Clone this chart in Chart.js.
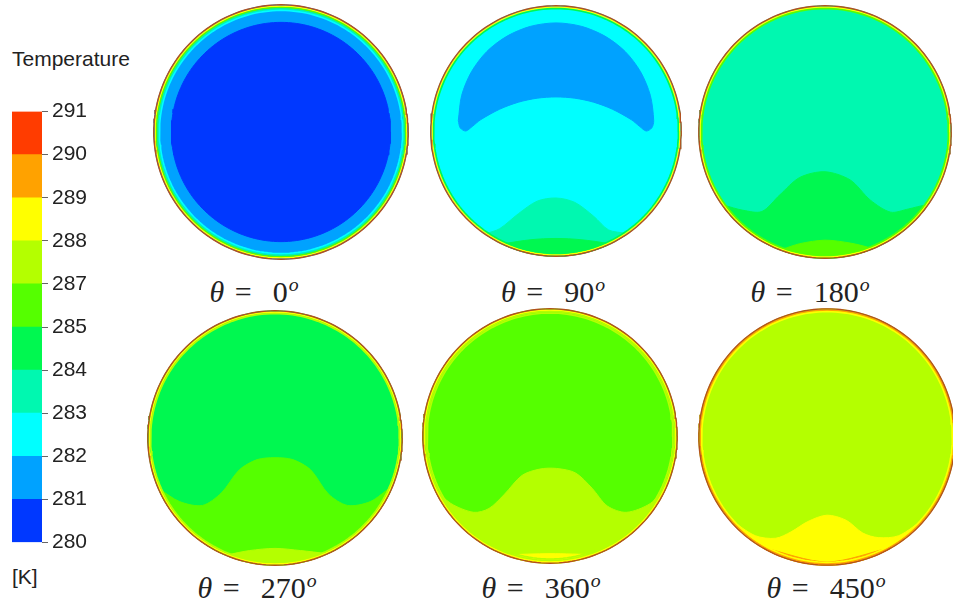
<!DOCTYPE html>
<html>
<head>
<meta charset="utf-8">
<script src="https://cdn.jsdelivr.net/npm/chart.js@4.4.1/dist/chart.umd.min.js"></script>
<style>
    body {
        margin: 0;
        width: 953px;
        height: 605px;
        overflow: hidden;
        background: #fff;
        position: relative;
        font-family: "Liberation Sans", Arial, sans-serif;
        color: #222;
    }
    canvas { position: absolute; }
    .txt { position: absolute; white-space: nowrap; line-height: 1; }
    .ang {
        position: absolute;
        white-space: pre;
        transform: translate(-50%, -50%);
        font-family: "Liberation Serif", serif;
        font-size: 30px;
        word-spacing: 3px;
        line-height: 1;
        color: #222;
    }
    .ang sup { font-size: 0.66em; font-style: italic; vertical-align: 0.55em; line-height: 0; margin-left: 1px; }
</style>
</head>
<body>
<div class="txt" style="left:12px; top:48px; font-size:21px;">Temperature</div>
<canvas id="legendBar" width="80" height="464" style="left:12px; top:95px;"></canvas>
<div class="txt" style="left:12px; top:566px; font-size:21px;">[K]</div>

<script>
document.addEventListener('DOMContentLoaded', function () {
    // Colour bar levels [K] (the legend skips 286)
    var levels = [280, 281, 282, 283, 284, 285, 287, 288, 289, 290, 291];
    var bandColors = ['#0038ff', '#00a2ff', '#00ffff', '#00f8b0', '#00f850',
                      '#55ff00', '#b4ff00', '#ffff00', '#ffa200', '#ff3c00'];

    // Crank angle of each section
    var angles = [0, 90, 180, 270, 360, 450];
    // Band filling the bulk of each section
    var coreBand = [0, 2, 3, 4, 5, 6];

    // theta = 0: cold core inside a warmer annulus
    var coreRadius0 = 0.862;

    // theta = 90: cool crescent in the upper half (x, y in units of the pipe radius)
    var crescentX = [-0.78, -0.753, -0.675, -0.552, -0.39, -0.202, 0, 0.202, 0.39, 0.552, 0.675, 0.753, 0.78,
                     0.765, 0.72, 0.67, 0.6, 0.45, 0.3, 0.15, 0, -0.15, -0.3, -0.45, -0.6, -0.67, -0.72, -0.765];
    var crescentY = [0.083, 0.285, 0.473, 0.635, 0.758, 0.836, 0.863, 0.836, 0.758, 0.635, 0.473, 0.285, 0.083,
                     0.025, 0.0, 0.035, 0.091, 0.174, 0.23, 0.262, 0.272, 0.262, 0.23, 0.174, 0.091, 0.035, 0.0, 0.025];

    // Warm plume rising from the bottom wall (upper boundary, left to right)
    var plumeX = [
        [],
        [-0.56, -0.45, -0.30, -0.15, 0, 0.15, 0.30, 0.42, 0.56],
        [-0.80, -0.65, -0.50, -0.36, -0.2, 0, 0.2, 0.36, 0.52, 0.66, 0.80],
        [-0.91, -0.75, -0.57, -0.42, -0.28, -0.14, 0, 0.14, 0.28, 0.42, 0.57, 0.75, 0.91],
        [-0.91, -0.78, -0.60, -0.48, -0.36, -0.22, -0.08, 0.05, 0.2, 0.33, 0.45, 0.6, 0.79, 0.91],
        [-0.76, -0.56, -0.40, -0.28, -0.15, 0, 0.15, 0.28, 0.40, 0.56, 0.76]
    ];
    var plumeY = [
        [],
        [-0.82, -0.78, -0.66, -0.56, -0.535, -0.57, -0.68, -0.79, -0.82],
        [-0.58, -0.62, -0.63, -0.50, -0.36, -0.315, -0.38, -0.54, -0.635, -0.61, -0.58],
        [-0.40, -0.50, -0.53, -0.43, -0.25, -0.17, -0.155, -0.17, -0.25, -0.44, -0.53, -0.50, -0.39],
        [-0.41, -0.53, -0.60, -0.57, -0.46, -0.31, -0.26, -0.255, -0.29, -0.41, -0.55, -0.60, -0.53, -0.40],
        [-0.64, -0.77, -0.79, -0.74, -0.66, -0.61, -0.65, -0.75, -0.785, -0.77, -0.64]
    ];

    // Thin hot layer on the bottom wall
    var layerX = [
        [],
        [-0.42, -0.2, 0, 0.2, 0.42],
        [-0.34, -0.2, 0, 0.2, 0.36],
        [-0.38, -0.2, 0, 0.2, 0.40],
        [-0.35, 0, 0.35],
        [-0.5, 0, 0.5]
    ];
    var layerY = [
        [],
        [-0.9, -0.868, -0.858, -0.868, -0.9],
        [-0.93, -0.885, -0.857, -0.88, -0.92],
        [-0.92, -0.885, -0.868, -0.885, -0.91],
        [-0.935, -0.925, -0.935],
        [-0.862, -0.975, -0.862]
    ];

    // Wall boundary layer, outer to inner band
    var wallBands = [
        [7, 5, 3, 2],
        [7, 4],
        [7, 5],
        [7, 6],
        [7, 6, 6],
        [8, 7]
    ];

    // Section centres and radii on the page
    var panels = [
        {cx: 280.5, cy: 131.5, r: 127, lx: 254, ly: 292},
        {cx: 556, cy: 131, r: 125, lx: 553, ly: 292},
        {cx: 825, cy: 132, r: 126, lx: 810, ly: 292},
        {cx: 275, cy: 438, r: 127, lx: 257, ly: 588},
        {cx: 549.5, cy: 436, r: 127, lx: 541, ly: 588},
        {cx: 827, cy: 437, r: 128, lx: 826, ly: 588}
    ];
    var span = 1.03;

    function circlePoints(radius, n) {
        var pts = [];
        for (var i = 0; i <= n; i++) {
            var a = 2 * Math.PI * i / n;
            pts.push({x: radius * Math.cos(a), y: radius * Math.sin(a)});
        }
        return pts;
    }

    // region under a boundary curve, closed along the wall
    function underCurve(xs, ys) {
        var pts = [];
        for (var i = 0; i < xs.length; i++) pts.push({x: xs[i], y: ys[i]});
        var aR = Math.atan2(ys[ys.length - 1], xs[xs.length - 1]);
        var aL = Math.atan2(ys[0], xs[0]);
        var n = 60;
        for (var k = 1; k < n; k++) {
            var a = aR + (aL - aR) * k / n;
            pts.push({x: Math.cos(a), y: Math.sin(a)});
        }
        pts.push({x: xs[0], y: ys[0]});
        return pts;
    }

    function areaSet(points, color, tension) {
        return {
            data: points,
            showLine: true,
            fill: 'shape',
            backgroundColor: color,
            borderColor: color,
            borderWidth: 1,
            pointRadius: 0,
            tension: tension
        };
    }

    function wallSet(radius, color, width) {
        return {
            data: circlePoints(radius, 180),
            showLine: true,
            fill: false,
            borderColor: color,
            borderWidth: width,
            pointRadius: 0,
            tension: 0
        };
    }

    panels.forEach(function (p, idx) {
        var size = Math.round(2 * p.r * span);
        var canvas = document.createElement('canvas');
        canvas.width = size;
        canvas.height = size;
        canvas.style.left = (p.cx - size / 2) + 'px';
        canvas.style.top = (p.cy - size / 2) + 'px';
        document.body.appendChild(canvas);

        // bottom layer first
        var sets = [];
        sets.push(areaSet(circlePoints(1, 180), bandColors[coreBand[idx]], 0));
        if (idx === 0) {
            sets[0].backgroundColor = bandColors[1];
            sets[0].borderColor = bandColors[1];
            sets.push(areaSet(circlePoints(coreRadius0, 180), bandColors[0], 0));
        }
        if (idx === 1) {
            var cres = crescentX.map(function (x, i) { return {x: x, y: crescentY[i]}; });
            cres.push(cres[0]);
            sets.push(areaSet(cres, bandColors[1], 0.3));
        }
        if (plumeX[idx].length) {
            sets.push(areaSet(underCurve(plumeX[idx], plumeY[idx]), bandColors[coreBand[idx] + 1], 0.3));
        }
        if (layerX[idx].length) {
            sets.push(areaSet(underCurve(layerX[idx], layerY[idx]), bandColors[coreBand[idx] + 2], 0.3));
        }
        var step = 1.4 / p.r;
        wallBands[idx].forEach(function (b, k) {
            sets.push(wallSet(1 - step * (k + 1), bandColors[b], 1.6));
        });
        sets.push(wallSet(1, '#b4501e', 1.4));

        sets.forEach(function (s, i) { s.order = -i; });

        new Chart(canvas, {
            type: 'scatter',
            data: {datasets: sets},
            options: {
                responsive: false,
                animation: false,
                devicePixelRatio: 1,
                events: [],
                layout: {padding: 0},
                plugins: {legend: {display: false}, tooltip: {enabled: false}},
                scales: {
                    x: {type: 'linear', min: -span, max: span, display: false},
                    y: {type: 'linear', min: -span, max: span, display: false}
                }
            }
        });

        var lbl = document.createElement('div');
        lbl.className = 'ang';
        lbl.style.left = p.lx + 'px';
        lbl.style.top = p.ly + 'px';
        lbl.innerHTML = '<i>\u03b8</i> =  ' + angles[idx] + '<sup>o</sup>';
        document.body.appendChild(lbl);
    });

    // Temperature colour bar
    new Chart(document.getElementById('legendBar'), {
        type: 'bar',
        data: {
            labels: ['T'],
            datasets: bandColors.map(function (c) {
                return {data: [1], backgroundColor: c, borderWidth: 0, barPercentage: 1, categoryPercentage: 1};
            })
        },
        options: {
            responsive: false,
            animation: false,
            devicePixelRatio: 1,
            events: [],
            plugins: {legend: {display: false}, tooltip: {enabled: false}},
            scales: {
                x: {stacked: true, display: false},
                y: {
                    stacked: true,
                    position: 'right',
                    min: 0,
                    max: levels.length - 1,
                    ticks: {
                        stepSize: 1,
                        padding: 4,
                        color: '#222',
                        font: {family: 'Liberation Sans', size: 21},
                        callback: function (v) { return levels[v]; }
                    },
                    grid: {drawOnChartArea: false, tickLength: 6, color: '#666'},
                    border: {display: false},
                    afterFit: function (scale) { scale.width = 50; }
                }
            }
        }
    });
});
</script>
</body>
</html>
